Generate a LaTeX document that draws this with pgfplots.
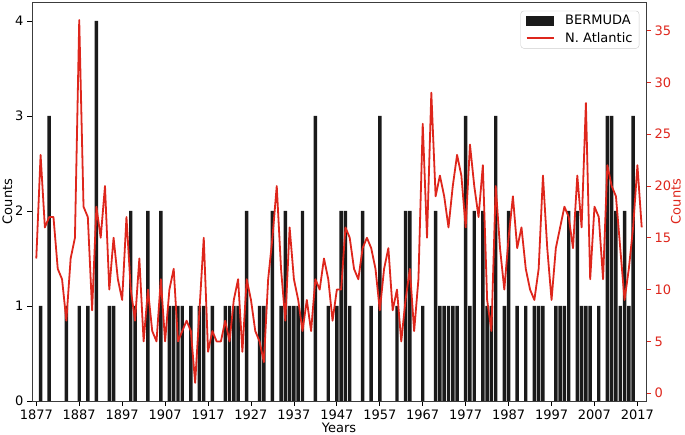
\documentclass[border=0pt]{standalone}
\usepackage{fontspec}
\setmainfont{DejaVu Sans}
\usepackage{pgfplots}
\pgfplotsset{compat=1.18}
\usepackage{pgfplotstable}
\definecolor{natl}{RGB}{222,38,28}
\definecolor{barc}{RGB}{26,26,26}
\definecolor{spine}{RGB}{60,60,60}

\pgfplotstableread{
year count
1878 1
1880 3
1884 1
1887 1
1889 1
1891 4
1894 1
1895 1
1899 2
1900 1
1903 2
1906 2
1908 1
1909 1
1910 1
1911 1
1913 1
1915 1
1916 1
1918 1
1921 1
1922 1
1923 1
1924 1
1926 2
1929 1
1930 1
1932 2
1934 1
1935 2
1936 1
1937 1
1938 1
1939 2
1942 3
1945 1
1947 1
1948 2
1949 2
1950 1
1953 2
1955 1
1957 3
1961 1
1963 2
1964 2
1967 1
1970 2
1971 1
1972 1
1973 1
1974 1
1975 1
1977 3
1978 1
1979 2
1981 2
1982 1
1983 1
1984 3
1986 1
1987 2
1989 1
1991 1
1993 1
1994 1
1995 1
1998 1
1999 1
2000 1
2001 2
2003 2
2004 1
2005 1
2006 1
2008 1
2010 3
2011 3
2012 2
2013 1
2014 2
2015 1
2016 3
}\bermuda

\pgfplotstableread{
year count
1877 13
1878 23
1879 16
1880 17
1881 17
1882 12
1883 11
1884 7
1885 13
1886 15
1887 36
1888 18
1889 17
1890 8
1891 18
1892 15
1893 20
1894 10
1895 15
1896 11
1897 9
1898 17
1899 10
1900 7
1901 13
1902 5
1903 10
1904 6
1905 5
1906 11
1907 5
1908 10
1909 12
1910 5
1911 6
1912 7
1913 6
1914 1
1915 8
1916 15
1917 4
1918 6
1919 5
1920 5
1921 7
1922 5
1923 9
1924 11
1925 4
1926 11
1927 9
1928 6
1929 5
1930 3
1931 11
1932 15
1933 20
1934 12
1935 7
1936 16
1937 11
1938 9
1939 6
1940 9
1941 6
1942 11
1943 10
1944 13
1945 11
1946 7
1947 10
1948 10
1949 16
1950 15
1951 12
1952 11
1953 14
1954 15
1955 14
1956 12
1957 8
1958 12
1959 14
1960 8
1961 10
1962 5
1963 9
1964 12
1965 6
1966 11
1967 26
1968 15
1969 29
1970 19
1971 21
1972 19
1973 16
1974 20
1975 23
1976 21
1977 16
1978 24
1979 20
1980 17
1981 22
1982 9
1983 6
1984 20
1985 14
1986 10
1987 15
1988 19
1989 14
1990 16
1991 12
1992 10
1993 9
1994 12
1995 21
1996 14
1997 9
1998 14
1999 16
2000 18
2001 17
2002 14
2003 21
2004 16
2005 28
2006 11
2007 18
2008 17
2009 11
2010 22
2011 20
2012 19
2013 14
2014 9
2015 12
2016 16
2017 22
2018 16
}\natlantic

\begin{document}
\begin{tikzpicture}[font=\fontsize{13}{15.6}\selectfont]
\useasboundingbox (-32pt,-34pt) rectangle (653pt,401pt);
\pgfplotsset{
  common/.style={
    width=614pt, height=399pt, scale only axis,
    at={(0pt,0pt)}, anchor=south west,
    xmin=1876, xmax=2019,
    /pgf/number format/assume math mode=true,
    tick align=outside,
    major tick length=5pt,
    every tick label/.append style={font=\fontsize{13}{15.6}\selectfont},
    label style={font=\fontsize{13}{15.6}\selectfont},
  }
}
\begin{axis}[common,
  ymin=0, ymax=4.2,
  axis line style={draw=spine, line width=0.8pt},
  xtick={1877,1887,1897,1907,1917,1927,1937,1947,1957,1967,1977,1987,1997,2007,2017},
  xticklabels={1877,1887,1897,1907,1917,1927,1937,1947,1957,1967,1977,1987,1997,2007,2017},
  ytick={0,1,2,3,4},
  xtick pos=left, ytick pos=left,
  tick style={draw=black, line width=0.8pt},
  xlabel={Years}, ylabel={Counts},
  xlabel style={at={(axis description cs:0.5,0)}, anchor=base, yshift=-32pt},
  ylabel style={yshift=-4pt},
]
\addplot[ybar, bar width=0.8, fill=barc, draw=none, bar shift=0pt] table[x=year, y=count] {\bermuda};
\end{axis}
\begin{axis}[common,
  ymin=-0.75, ymax=37.75,
  axis x line=none,
  axis y line*=right,
  y axis line style={draw=spine, line width=0.8pt},
  ytick={0,5,10,15,20,25,30,35},
  ytick pos=right, yticklabel pos=right,
  y tick style={draw=natl, line width=0.8pt},
  y tick label style={text=natl},
  ylabel={Counts}, ylabel near ticks,
  ylabel style={text=natl, yshift=7pt},
  legend style={at={(0.989,0.978)}, anchor=north east, draw=black!20, rounded corners=3pt,
    fill=white, inner xsep=5pt, inner ysep=3pt, row sep=3pt,
    nodes={inner sep=1.5pt},
    font=\fontsize{13}{15.6}\selectfont},
  legend cell align=left,
]
\addlegendimage{legend image code/.code={\fill[barc, sharp corners] (0pt,-4.5pt) rectangle (27pt,4.5pt); \path[draw=none, fill=none] (0pt,0pt) rectangle (37pt,0pt);}}
\addlegendentry{BERMUDA}
\addplot[natl, line width=1.8pt, mark=none, line join=round,
  legend image code/.code={\draw[natl, line width=1.8pt, sharp corners] (0pt,0pt) -- (27pt,0pt); \path[draw=none, fill=none] (0pt,0pt) rectangle (37pt,0pt);}]
  table[x=year, y=count] {\natlantic};
\addlegendentry{N. Atlantic}
\end{axis}
\end{tikzpicture}
\end{document}
